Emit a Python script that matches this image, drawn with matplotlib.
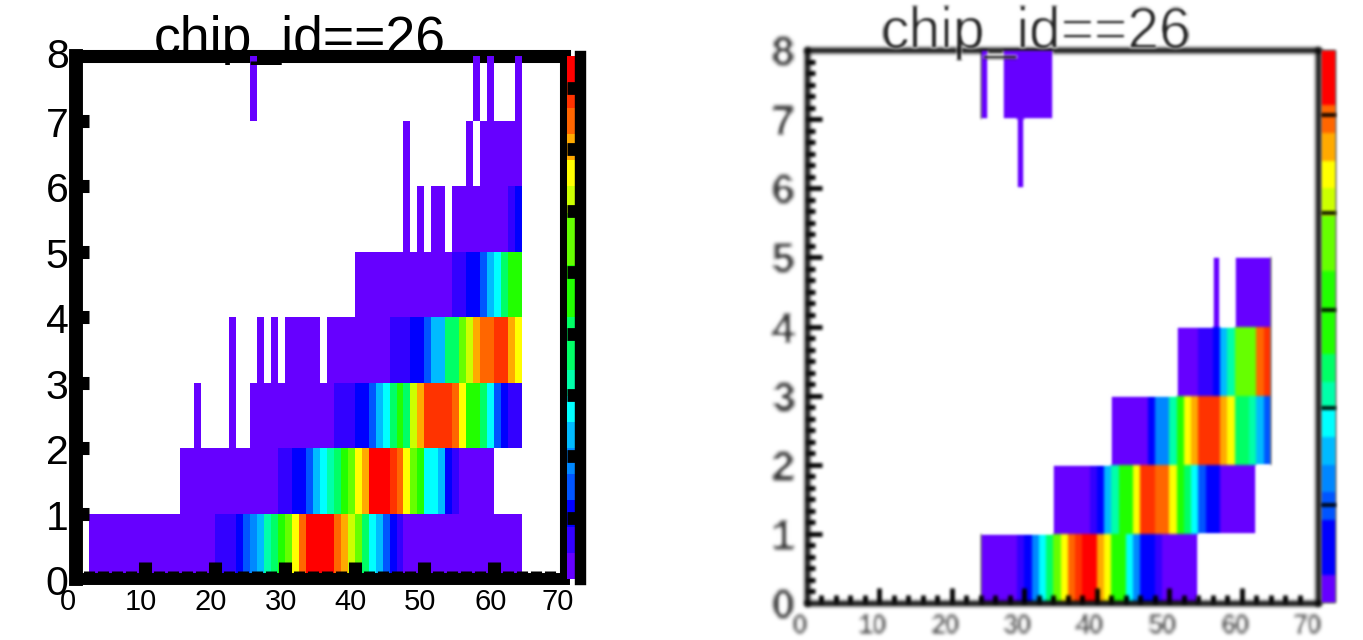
import matplotlib
matplotlib.use("Agg")
import matplotlib.pyplot as plt
import numpy as np
from matplotlib.colors import ListedColormap

plt.rcParams["font.family"] = ["Liberation Sans", "DejaVu Sans"]

W, H = 1363, 640
E = -1  # empty bin

palette = ["#6600ff", "#3300ff", "#0000ff", "#0055ff", "#0088ff", "#00bbff", "#00ffff",
           "#00ffaa", "#00ff66", "#22ff00", "#66ff00", "#ccff00", "#ffff00", "#ffaa00",
           "#ff6600", "#ff3300", "#ff0000"]

title = "chip_id==26"
x_ticks = [0, 10, 20, 30, 40, 50, 60, 70]
y_ticks = [0, 1, 2, 3, 4, 5, 6, 7, 8]

# colour level per x bin, one list per y row
left_rows = [
    [0, E] + [0]*18 + [1]*3 + [2, 3, 4, 5, 7, 8, 9, 10, 12, 14] + [16]*4 + [14, 13, 11, 10, 8, 6, 5, 3, 2, 1] + [0]*17,
    [0] + [E]*14 + [0]*14 + [1, 1, 2, 2, 3, 5, 6, 7, 8, 9, 10, 12, 13] + [16]*3 + [15, 14, 12, 10, 9, 6, 6, 5, 2, 1] + [0]*5,
    [0] + [E]*16 + [0] + [E]*4 + [0] + [E]*2 + [0]*12 + [1, 1, 1, 2, 2, 3, 5, 6, 8, 9, 8, 11, 13] + [15]*4 + [14, 12, 9, 9, 8, 6, 3, 2, 1, 1],
    [0] + [E]*21 + [0] + [E]*3 + [0, E, 0, E] + [0]*5 + [E] + [0]*9 + [1, 1, 1, 2, 2, 3, 5, 5, 8, 8, 10, 11, 13, 14, 14, 15, 15, 13, 12],
    [0] + [E]*39 + [0]*14 + [1, 1, 2, 2, 3, 5, 6, 8, 9, 9],
    [0] + [E]*46 + [0, E, 0, E, 0, 0, E] + [0]*8 + [1, 2],
    [0] + [E]*46 + [0] + [E]*8 + [0, E] + [0]*6,
    [0] + [E]*24 + [0] + [E]*31 + [0, E, 0] + [E]*3 + [0],
]
right_rows = [
    [E]*24 + [0]*5 + [1, 2, 4, 6, 8, 10, 12, 14, 15, 16, 16, 13, 12, 9, 9, 6, 4, 2, 2, 1] + [0]*5,
    [E]*34 + [0]*5 + [1, 2, 5, 7, 9, 9, 12, 15, 15, 14, 14, 12, 9, 8, 6, 3, 2, 2] + [0]*5,
    [E]*42 + [0]*5 + [2, 4, 4, 7, 9, 12, 13, 15, 15, 15, 13, 12, 8, 8, 7, 5, 3],
    [E]*51 + [0]*3 + [1, 1, 2, 5, 7, 10, 10, 10, 14, 15],
    [E]*56 + [0, E, E] + [0]*5,
    [],
    [E]*29 + [0],
    [E]*24 + [0, E, E] + [0]*7,
]

# palette strips, bottom to top
left_strip = [0, 1, 2, 3, 4, 5, 6, 7, 8, 8, 9, 9, 10, 10, 11, 12, 13, 14, 15, 16]
right_strip = [0, 2, 2, 3, 4, 5, 6, 7, 8, 9, 9, 9, 10, 10, 11, 12, 13, 14, 16, 16]
left_strip_top = 8.53
right_strip_top = 5.67
left_strip_ticks = [1, 2, 3, 4, 5, 6, 7, 8]
right_strip_ticks = [1, 2, 3, 4, 5]

cmap = ListedColormap(palette)


def px_axes(fig, l, t, r, b):
    return fig.add_axes([l / W, 1 - b / H, (r - l) / W, (b - t) / H])


def grid(rows):
    z = np.full((8, 72), np.nan)
    for j, row in enumerate(rows):
        for i, v in enumerate(row):
            if v != E:
                z[j, i] = v
    return z


def blur(image, dpi, r=1):
    # box blur, 3 passes, for the soft right panel
    pad = r * 3
    out = np.pad(image, ((pad, pad), (pad, pad), (0, 0)))
    k = np.ones(2 * r + 1) / (2 * r + 1)
    for _ in range(3):
        out = np.apply_along_axis(np.convolve, 0, out, k, mode="same")
        out = np.apply_along_axis(np.convolve, 1, out, k, mode="same")
    return out, -pad, -pad


fig = plt.figure(figsize=(W / 100, H / 100), dpi=100)

# left panel
ax = px_axes(fig, 75.5, 55.5, 564, 579)
ax.set_xlim(0, 70)
ax.set_ylim(0, 8)
ax.pcolormesh(np.arange(73), np.arange(9), grid(left_rows), cmap=cmap, vmin=-0.5, vmax=16.5, zorder=1, antialiased=False)
ax.spines["top"].set_linewidth(9.4)
ax.spines["right"].set_linewidth(5.8)
ax.spines["left"].set_linewidth(10)
ax.spines["bottom"].set_linewidth(8.6)
ax.spines["top"].set_zorder(0.5)
ax.spines["right"].set_zorder(0.5)
ax.spines["left"].set_zorder(3)
ax.spines["bottom"].set_zorder(3)
ax.set_xticks(x_ticks[1:-1])
ax.set_yticks(y_ticks[1:-1])
ax.set_xticks(np.arange(2, 70, 2), minor=True)
ax.tick_params(axis="x", which="major", direction="in", length=12, width=9.4, labelbottom=False)
ax.tick_params(axis="x", which="minor", direction="in", length=6, width=8)
ax.tick_params(axis="y", which="major", direction="in", length=9.5, width=9.4, labelleft=False)
for t in ax.xaxis.get_major_ticks() + ax.yaxis.get_major_ticks() + ax.xaxis.get_minor_ticks():
    t.tick1line.set_zorder(3)
for v in x_ticks:
    dx = -8 if v == 0 else (-6 if v == 70 else -4)
    ax.annotate(str(v), (v, 0), xytext=(dx, -9), textcoords="offset pixels",
                ha="center", va="top", fontsize=21, annotation_clip=False)
for v in y_ticks:
    dy = 3 if v == 8 else -1
    ax.annotate(str(v), (0, v), xytext=(-7, dy), textcoords="offset pixels",
                ha="right", va="center_baseline", fontsize=29.5, annotation_clip=False)

strip = px_axes(fig, 567, 55.5, 580, 579)
strip.set_xlim(0, 1)
strip.set_ylim(0, left_strip_top)
edges = np.linspace(0, left_strip_top, len(left_strip) + 1)
strip.pcolormesh([0, 0.65], edges, np.array(left_strip)[:, None], cmap=cmap, vmin=-0.5, vmax=16.5, zorder=1)
for s in ["top", "bottom", "left"]:
    strip.spines[s].set_visible(False)
strip.patch.set_visible(False)
strip.spines["right"].set_linewidth(8.2)
strip.set_xticks([])
strip.yaxis.tick_right()
strip.set_yticks(left_strip_ticks)
strip.tick_params(axis="y", direction="in", length=9.5, width=9.2, labelright=False, zorder=3)
fig.text(300 / W, 1 - 54 / H, title, ha="center", va="baseline", fontsize=38.5, zorder=10)

# right panel
ax2 = px_axes(fig, 807, 50, 1318, 603)
ax2.set_xlim(0, 70.5)
ax2.set_ylim(0, 8)
mesh = ax2.pcolormesh(np.arange(73), np.arange(9), grid(right_rows), cmap=cmap, vmin=-0.5, vmax=16.5, zorder=1, antialiased=False)
mesh.set_agg_filter(blur)
for s in ax2.spines:
    ax2.spines[s].set_linewidth(3.8)
    ax2.spines[s].set_agg_filter(blur)
ax2.spines["top"].set_zorder(0.5)
ax2.spines["right"].set_zorder(0.5)
ax2.spines["left"].set_zorder(3)
ax2.spines["bottom"].set_zorder(3)
ax2.set_xticks(x_ticks[1:-1])
ax2.set_yticks(y_ticks[1:-1])
ax2.set_xticks(np.arange(2, 70, 2), minor=True)
ax2.set_yticks(np.arange(1, 48) / 6, minor=True)
ax2.tick_params(axis="both", which="major", direction="in", length=11, width=3.4, labelleft=False, labelbottom=False)
ax2.tick_params(axis="both", which="minor", direction="in", length=6, width=3.4)
for t in (ax2.xaxis.get_major_ticks() + ax2.yaxis.get_major_ticks() +
          ax2.xaxis.get_minor_ticks() + ax2.yaxis.get_minor_ticks()):
    t.tick1line.set_zorder(3)
    t.tick1line.set_agg_filter(blur)
for v in x_ticks:
    a = ax2.annotate(str(v), (v, 0), xytext=(-7, -11), textcoords="offset pixels",
                     ha="center", va="top", fontsize=18, fontweight="bold", color="#444444", annotation_clip=False)
    a.set_agg_filter(blur)
for v in y_ticks:
    a = ax2.annotate(str(v), (0, v), xytext=(-13, 0), textcoords="offset pixels",
                     ha="right", va="center_baseline", fontsize=29, fontweight="bold",
                     color="#333333", annotation_clip=False)
    a.set_agg_filter(blur)

strip2 = px_axes(fig, 1321, 50, 1336, 603)
strip2.set_xlim(0, 1)
strip2.set_ylim(0, right_strip_top)
edges = np.linspace(0, right_strip_top, len(right_strip) + 1)
m2 = strip2.pcolormesh([0, 1], edges, np.array(right_strip)[:, None], cmap=cmap, vmin=-0.5, vmax=16.5, zorder=1)
m2.set_agg_filter(blur)
for s in strip2.spines:
    strip2.spines[s].set_visible(False)
strip2.patch.set_visible(False)
strip2.set_xticks([])
strip2.yaxis.tick_right()
strip2.set_yticks(right_strip_ticks)
strip2.tick_params(axis="y", direction="in", length=10.8, width=2.6, labelright=False)
for t in strip2.yaxis.get_major_ticks():
    t.tick2line.set_agg_filter(blur)
    t.tick2line.set_zorder(3)
tt = fig.text(1036 / W, 1 - 48 / H, title, ha="center", va="baseline", fontsize=41, color="#222222", zorder=10)
tt.set_agg_filter(blur)

plt.savefig("out.png", dpi=100)
